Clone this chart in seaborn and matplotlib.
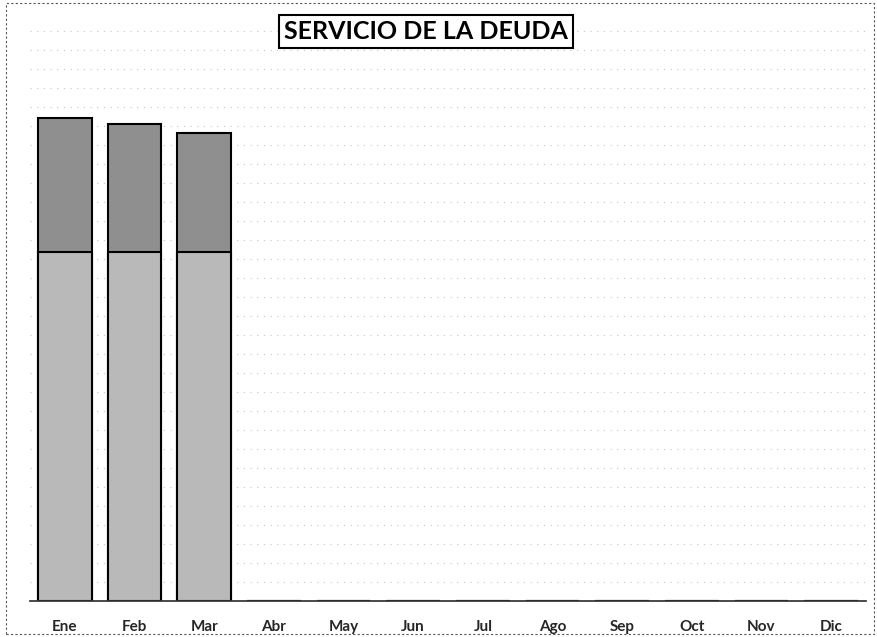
import matplotlib.pyplot as plt
import seaborn as sns
import pandas as pd
from matplotlib.patches import Rectangle

# datos (unidades relativas, sin escala en el eje)
meses = ["Ene", "Feb", "Mar", "Abr", "May", "Jun", "Jul", "Ago", "Sep", "Oct", "Nov", "Dic"]
amortizacion = [349, 349, 349, 0, 0, 0, 0, 0, 0, 0, 0, 0]
intereses = [134, 128, 119, 0, 0, 0, 0, 0, 0, 0, 0, 0]

sns.set_theme(style="white")
plt.rcParams['font.family'] = ['Lato', 'DejaVu Sans']

df = pd.DataFrame({"Mes": meses, "Base": amortizacion, "Extra": intereses})
df["Total"] = df["Base"] + df["Extra"]

fig = plt.figure(figsize=(8.77, 6.37), dpi=100)
ax = fig.add_axes([30 / 877, 36 / 637, 836 / 877, 581 / 637])

sns.barplot(data=df, x="Mes", y="Total", color="#8f8f8f", width=0.77,
            edgecolor="black", linewidth=1.5, saturation=1, ax=ax)
sns.barplot(data=df, x="Mes", y="Base", color="#b9b9b9", width=0.77,
            edgecolor="black", linewidth=1.5, saturation=1, ax=ax)

ax.set_ylim(0, 581)
ax.set_xlim(-0.5, 11.5)
ax.set_yticks(range(0, 581, 19))
ax.set_yticklabels([])
ax.tick_params(axis="y", length=0)
ax.grid(axis="y", color="#c4c4c4", linestyle=(0, (1, 5)), linewidth=0.8)
ax.set_axisbelow(True)
ax.set_xlabel("")
ax.set_ylabel("")
for s in ["top", "right", "left"]:
    ax.spines[s].set_visible(False)
ax.spines["bottom"].set_color("#333333")
ax.spines["bottom"].set_linestyle((0, (3, 1)))
ax.tick_params(axis="x", length=0, pad=14)
for lbl in ax.get_xticklabels():
    lbl.set_fontweight("bold")
    lbl.set_fontsize(11)

fig.text(0.486, 0.95, "SERVICIO DE LA DEUDA", ha="center", va="center",
         fontsize=18, fontweight="bold", color="black",
         bbox=dict(boxstyle="square,pad=0.2", facecolor="white",
                   edgecolor="black", linewidth=1.5))

fig.patches.append(Rectangle((6 / 877, 0.005), 0.99, 0.99, transform=fig.transFigure,
                             fill=False, edgecolor="#555555", linestyle=(0, (2, 2)),
                             linewidth=0.8))

plt.savefig("out.png", dpi=100)
plt.close()
